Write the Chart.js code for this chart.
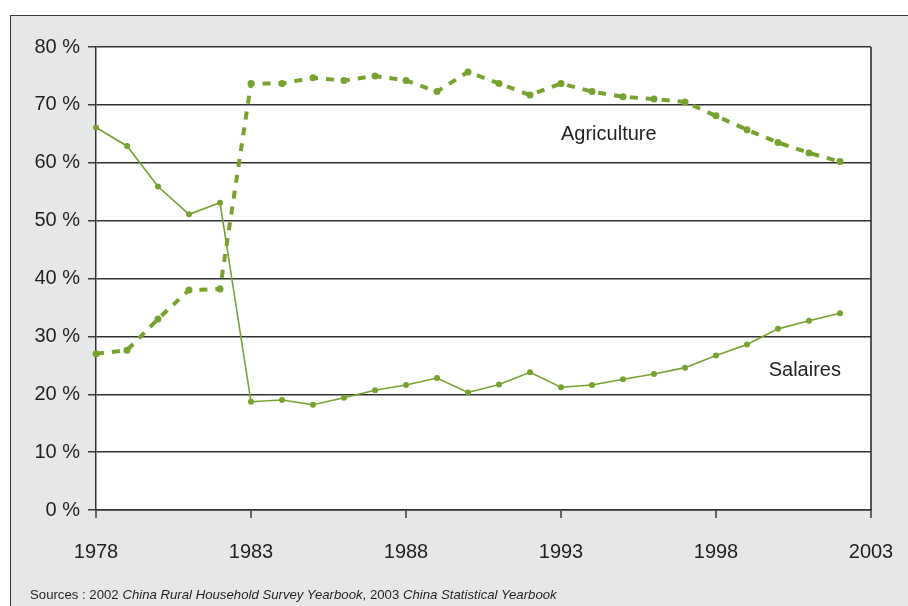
<!DOCTYPE html>
<html>
<head>
<meta charset="utf-8">
<script src="https://cdn.jsdelivr.net/npm/chart.js@4/dist/chart.umd.min.js"></script>
<style>
  html, body { margin: 0; padding: 0; background: #ffffff; overflow: hidden; }
  #wrap { position: relative; width: 908px; height: 606px; }
  #frame { position: absolute; left: 10px; top: 15px; width: 1000px; height: 700px;
           background: #e6e7e8; border: 1.5px solid #3a3a3a; box-sizing: border-box; }
  #c { position: absolute; left: 0; top: 0; }
  #src { position: absolute; left: 30px; top: 587px; font-family: "Liberation Sans", Arial, sans-serif;
         font-size: 13.2px; line-height: 16px; color: #231f20; white-space: nowrap; }
</style>
</head>
<body>
<div id="wrap">
  <div id="frame"></div>
  <canvas id="c" width="908" height="606"></canvas>
  <div id="src">Sources : 2002 <i>China Rural Household Survey Yearbook</i>, 2003 <i>China Statistical Yearbook</i></div>
</div>
<script>
const years = [1978,1979,1980,1981,1982,1983,1984,1985,1986,1987,1988,1989,1990,1991,1992,1993,1994,1995,1996,1997,1998,1999,2000,2001,2002];
const salaires = [66.1,62.9,55.9,51.1,53.1,18.7,19.0,18.2,19.4,20.7,21.6,22.8,20.3,21.7,23.8,21.2,21.6,22.6,23.5,24.6,26.7,28.6,31.3,32.7,34.0];
const agriculture = [27.0,27.6,33.0,38.0,38.2,73.7,73.7,74.7,74.2,75.0,74.2,72.3,75.7,73.7,71.7,73.7,72.3,71.4,71.0,70.5,68.1,65.7,63.5,61.7,60.2];
const xTickYears = [1978,1983,1988,1993,1998,2003];
const yTicks = [0,10,20,30,40,50,60,70,80];
const seriesLabels = ["Salaires", "Agriculture"];

const GREEN = '#78a22f';
const TEXT = '#231f20';

const annotations = [
  { text: "Agriculture", x: 1993.0, y: 63.9 },
  { text: "Salaires", x: 1999.7, y: 23.15 }
];

Chart.defaults.font.family = '"Liberation Sans", Arial, Helvetica, sans-serif';
Chart.defaults.font.size = 20;
Chart.defaults.color = TEXT;

const bgPlugin = {
  id: 'plotbg',
  beforeDraw(chart) {
    const { ctx, chartArea: a } = chart;
    ctx.save();
    ctx.fillStyle = '#ffffff';
    ctx.fillRect(a.left, a.top, a.right - a.left, a.bottom - a.top);
    ctx.restore();
  },
  afterDatasetsDraw(chart) {
    const { ctx, scales } = chart;
    ctx.save();
    ctx.fillStyle = TEXT;
    ctx.font = '20px "Liberation Sans", Arial, sans-serif';
    ctx.textAlign = 'left';
    ctx.textBaseline = 'alphabetic';
    annotations.forEach(an => {
      ctx.fillText(an.text, scales.x.getPixelForValue(an.x), scales.y.getPixelForValue(an.y));
    });
    ctx.restore();
  }
};

new Chart(document.getElementById('c'), {
  type: 'line',
  data: {
    datasets: [
      {
        label: seriesLabels[0],
        data: years.map((yr, i) => ({ x: yr, y: salaires[i] })),
        borderColor: GREEN,
        backgroundColor: GREEN,
        borderWidth: 1.6,
        pointRadius: 3,
        pointBorderWidth: 0,
        pointBackgroundColor: GREEN,
        tension: 0,
        clip: false
      },
      {
        label: seriesLabels[1],
        data: years.map((yr, i) => ({ x: yr, y: agriculture[i] })),
        borderColor: GREEN,
        backgroundColor: GREEN,
        borderWidth: 4,
        borderDash: [8, 8],
        pointRadius: 3.5,
        pointBorderWidth: 0,
        pointBackgroundColor: GREEN,
        tension: 0,
        clip: false
      }
    ]
  },
  options: {
    responsive: false,
    animation: false,
    layout: { padding: { top: 47, right: 37, bottom: 0, left: 0 } },
    plugins: { legend: { display: false }, tooltip: { enabled: false } },
    scales: {
      x: {
        type: 'linear',
        min: 1978,
        max: 2003,
        afterBuildTicks: s => { s.ticks = xTickYears.map(v => ({ value: v })); },
        afterFit: s => { s.height = 96; s.paddingLeft = 0; s.paddingRight = 0; },
        ticks: {
          padding: 22,
          maxRotation: 0,
          autoSkip: false,
          callback: v => String(v)
        },
        grid: {
          drawOnChartArea: true,
          color: c => (c.tick && c.tick.value === 2003) ? '#555555' : 'rgba(0,0,0,0)',
          lineWidth: 2,
          tickColor: '#3a3a3a',
          tickLength: 8,
          tickWidth: 1.5
        },
        border: { display: true, color: '#333333', width: 1.5 }
      },
      y: {
        min: 0,
        max: 80,
        afterBuildTicks: s => { s.ticks = yTicks.map(v => ({ value: v })); },
        afterFit: s => { s.width = 96; s.paddingTop = 0; s.paddingBottom = 0; },
        ticks: {
          padding: 8,
          callback: v => v + ' %'
        },
        grid: {
          color: '#333333',
          lineWidth: 1.5,
          tickColor: '#3a3a3a',
          tickLength: 8
        },
        border: { display: true, color: '#333333', width: 1.5 }
      }
    }
  },
  plugins: [bgPlugin]
});
</script>
</body>
</html>
